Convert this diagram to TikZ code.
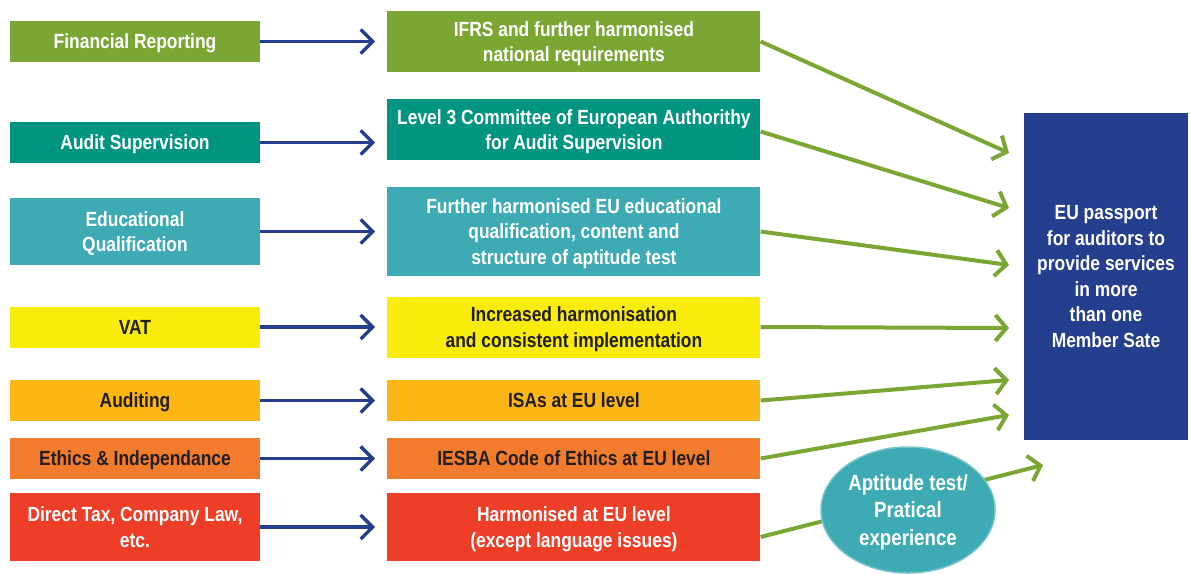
\documentclass[tikz,border=0pt]{standalone}
\usepackage{fontspec}
\setmainfont{Liberation Sans}[FakeStretch=0.85]
\usetikzlibrary{arrows.meta,positioning,shapes.geometric}

\definecolor{leaf}{HTML}{7BA633}
\definecolor{seagreen}{HTML}{009580}
\definecolor{lightteal}{HTML}{3DAAB4}
\definecolor{lemon}{HTML}{F7EC0A}
\definecolor{amber}{HTML}{FBB616}
\definecolor{tangerine}{HTML}{F27B2D}
\definecolor{tomato}{HTML}{EE3E27}
\definecolor{navy}{HTML}{253E8D}
\definecolor{darktext}{HTML}{231F20}

\begin{document}
\begin{tikzpicture}[x=1pt,y=-1pt,
box/.style={rectangle,inner sep=0pt,align=center,text depth=-1pt,font=\bfseries\fontsize{20.5}{25.5}\selectfont},
left node/.style={box,minimum width=250pt,minimum height=41pt},
mid node/.style={box,minimum width=373pt,minimum height=61pt},
blue arrow/.style={-{Straight Barb[length=12pt,width=24pt]},line width=3.5pt,draw=navy,shorten >=12pt},
green arrow/.style={-{Straight Barb[length=11pt,width=26pt]},line width=4pt,draw=leaf}]

\useasboundingbox (0,0) rectangle (1190,573);

% left column
\node[left node,fill=leaf,text=white] (fr) at (135,41.5) {Financial Reporting};
\node[left node,fill=seagreen,text=white] (as) at (135,142.5) {Audit Supervision};
\node[left node,fill=lightteal,text=white,minimum height=67pt] (eq) at (135,231.5) {Educational\\Qualification};
\node[left node,fill=lemon,text=darktext] (vat) at (135,327) {VAT};
\node[left node,fill=amber,text=darktext] (aud) at (135,400.5) {Auditing};
\node[left node,fill=tangerine,text=darktext] (eth) at (135,458.5) {Ethics \& Independance};
\node[left node,fill=tomato,text=white,minimum height=68pt] (tax) at (135,527) {Direct Tax, Company Law,\\etc.};

% middle column
\node[mid node,fill=leaf,text=white] (fr2) [right=127pt of fr] {IFRS and further harmonised\\national requirements};
\node[mid node,fill=seagreen,text=white] (as2) [right=127pt of as,yshift=13pt] {Level 3 Committee of European Authorithy\\for Audit Supervision};
\node[mid node,fill=lightteal,text=white,minimum height=89pt] (eq2) [right=127pt of eq] {Further harmonised EU educational\\qualification, content and\\structure of aptitude test};
\node[mid node,fill=lemon,text=darktext] (vat2) [right=127pt of vat] {Increased harmonisation\\and consistent implementation};
\node[mid node,fill=amber,text=darktext,minimum height=41pt] (aud2) [right=127pt of aud] {ISAs at EU level};
\node[mid node,fill=tangerine,text=darktext,minimum height=41pt] (eth2) [right=127pt of eth] {IESBA Code of Ethics at EU level};
\node[mid node,fill=tomato,text=white,minimum height=68pt] (tax2) [right=127pt of tax] {Harmonised at EU level\\(except language issues)};

% passport
\node[box,fill=navy,text=white,minimum width=164pt,minimum height=327pt,text depth=0pt] (pp) at (1106,276.5)
  {EU passport\\for auditors to\\provide services\\in more\\than one\\Member Sate};

\coordinate (t1) at (1009,153);
\coordinate (t2) at (1009,208);
\coordinate (t3) at (1009,265);
\coordinate (t4) at (1009,328);
\coordinate (t5) at (1009,380);
\coordinate (t6) at (1009,415);
\coordinate (t7) at (1043,465);

\foreach \a/\b in {fr/fr2,as/as2,eq/eq2,vat/vat2,aud/aud2,eth/eth2,tax/tax2}
  \draw[blue arrow] (\a.east) -- (\a.east -| \b.west);

\draw[green arrow] (fr2.east) -- (t1);
\draw[green arrow] ([yshift=-2pt]as2.east) -- (t2);
\draw[green arrow] (eq2.east) -- (t3);
\draw[green arrow] (vat2.east) -- (t4);
\draw[green arrow] (aud2.east) -- (t5);
\draw[green arrow] (eth2.east) -- (t6);
\draw[green arrow] ([yshift=-10pt]tax2.east) -- (t7);

\node[ellipse,fill=lightteal,draw=lightteal!70!white,line width=1.5pt,inner sep=0pt,
  minimum width=174pt,minimum height=126pt,align=center,text=white,text depth=-5.5pt,
  font=\bfseries\fontsize{22}{27.5}\selectfont] (exp) at (908,510)
  {Aptitude test/\\Pratical\\experience};

\end{tikzpicture}
\end{document}
